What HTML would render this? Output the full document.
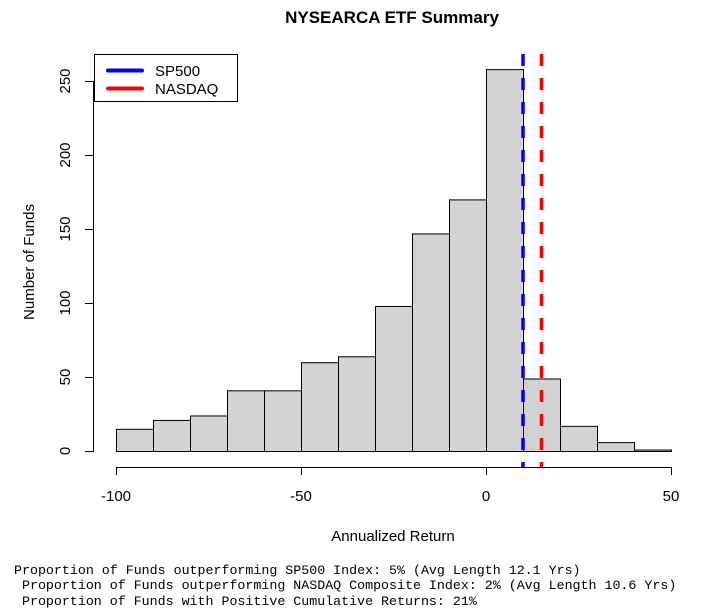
<!DOCTYPE html>
<html><head><meta charset="utf-8"><style>
body{margin:0;background:#fff;}
svg{display:block;font-family:"Liberation Sans",sans-serif;}
</style></head><body>
<svg id="chart" width="703" height="615">
<text x="392" y="23" text-anchor="middle" font-size="17" font-weight="bold">NYSEARCA ETF Summary</text>
<g id="bars"></g>
<g id="axes"></g>
<g id="lines"></g>
<g>
<rect x="94.5" y="54.5" width="143" height="47" fill="#fff" stroke="#000" stroke-width="1"/>
<line x1="108" y1="70.5" x2="142" y2="70.5" stroke="#00f" stroke-width="4" stroke-linecap="round"/>
<line x1="108" y1="88.5" x2="142" y2="88.5" stroke="#f00" stroke-width="4" stroke-linecap="round"/>
<text x="155" y="76" font-size="15">SP500</text>
<text x="155" y="94" font-size="15">NASDAQ</text>
</g>
<text x="393" y="541" text-anchor="middle" font-size="15">Annualized Return</text>
<text transform="translate(34,262) rotate(-90)" text-anchor="middle" font-size="15">Number of Funds</text>
<g font-family="'Liberation Mono',monospace" font-size="13.3" style="white-space:pre">
<text x="14" y="574" xml:space="preserve">Proportion of Funds outperforming SP500 Index: 5% (Avg Length 12.1 Yrs)</text>
<text x="14" y="589" xml:space="preserve"> Proportion of Funds outperforming NASDAQ Composite Index: 2% (Avg Length 10.6 Yrs)</text>
<text x="14" y="605" xml:space="preserve"> Proportion of Funds with Positive Cumulative Returns: 21%</text>
</g>
</svg>
<script>
const binStarts=[-100,-90,-80,-70,-60,-50,-40,-30,-20,-10,0,10,20,30,40];
const counts=[15,21,24,41,41,60,64,98,147,170,258,49,17,6,1];
const binWidth=10;
const xTicks=[-100,-50,0,50];
const yTicks=[0,50,100,150,200,250];
const sp500Return=[10];
const nasdaqReturn=[15];
const NS="http://www.w3.org/2000/svg";
function X(v){return 486+(v)*3.7;}
function Y(v){return 451-v*1.48;}
function mk(tag,attrs,parent){const e=document.createElementNS(NS,tag);for(const k in attrs)e.setAttribute(k,attrs[k]);parent.appendChild(e);return e;}
const bars=document.getElementById('bars');
binStarts.forEach((b,i)=>{
 const r=mk('rect',{x:X(b)+0.5,y:Y(counts[i])+0.5,width:binWidth*3.7,height:Y(0)-Y(counts[i]),fill:'#d3d3d3',stroke:'#000','stroke-width':1},bars);
 
 
});
const axes=document.getElementById('axes');
const xa=mk('g',{},axes);


mk('line',{x1:X(xTicks[0]),x2:X(xTicks[xTicks.length-1]),y1:467.5,y2:467.5,stroke:'#000'},xa);
xTicks.forEach(t=>{
 mk('line',{x1:X(t)+0.5,x2:X(t)+0.5,y1:467,y2:475,stroke:'#000'},xa);
 const tx=mk('text',{x:X(t),y:501,'text-anchor':'middle','font-size':15},xa);tx.textContent=t;
 
 
});
const ya=mk('g',{},axes);


mk('line',{x1:93.5,x2:93.5,y1:Y(yTicks[0]),y2:Y(yTicks[yTicks.length-1]),stroke:'#000'},ya);
yTicks.forEach(t=>{
 mk('line',{x1:85,x2:94,y1:Y(t)+0.5,y2:Y(t)+0.5,stroke:'#000'},ya);
 const tx=mk('text',{transform:`translate(70,${Y(t)}) rotate(-90)`,'text-anchor':'middle','font-size':15},ya);tx.textContent=t;
 
 
});
const lines=document.getElementById('lines');
const l1=mk('line',{x1:X(sp500Return[0]),x2:X(sp500Return[0]),y1:54,y2:467,stroke:'#00f','stroke-width':3.5,'stroke-dasharray':'12 12'},lines);


const l2=mk('line',{x1:X(nasdaqReturn[0]),x2:X(nasdaqReturn[0]),y1:54,y2:467,stroke:'#f00','stroke-width':3.5,'stroke-dasharray':'12 12'},lines);


</script>
</body></html>
